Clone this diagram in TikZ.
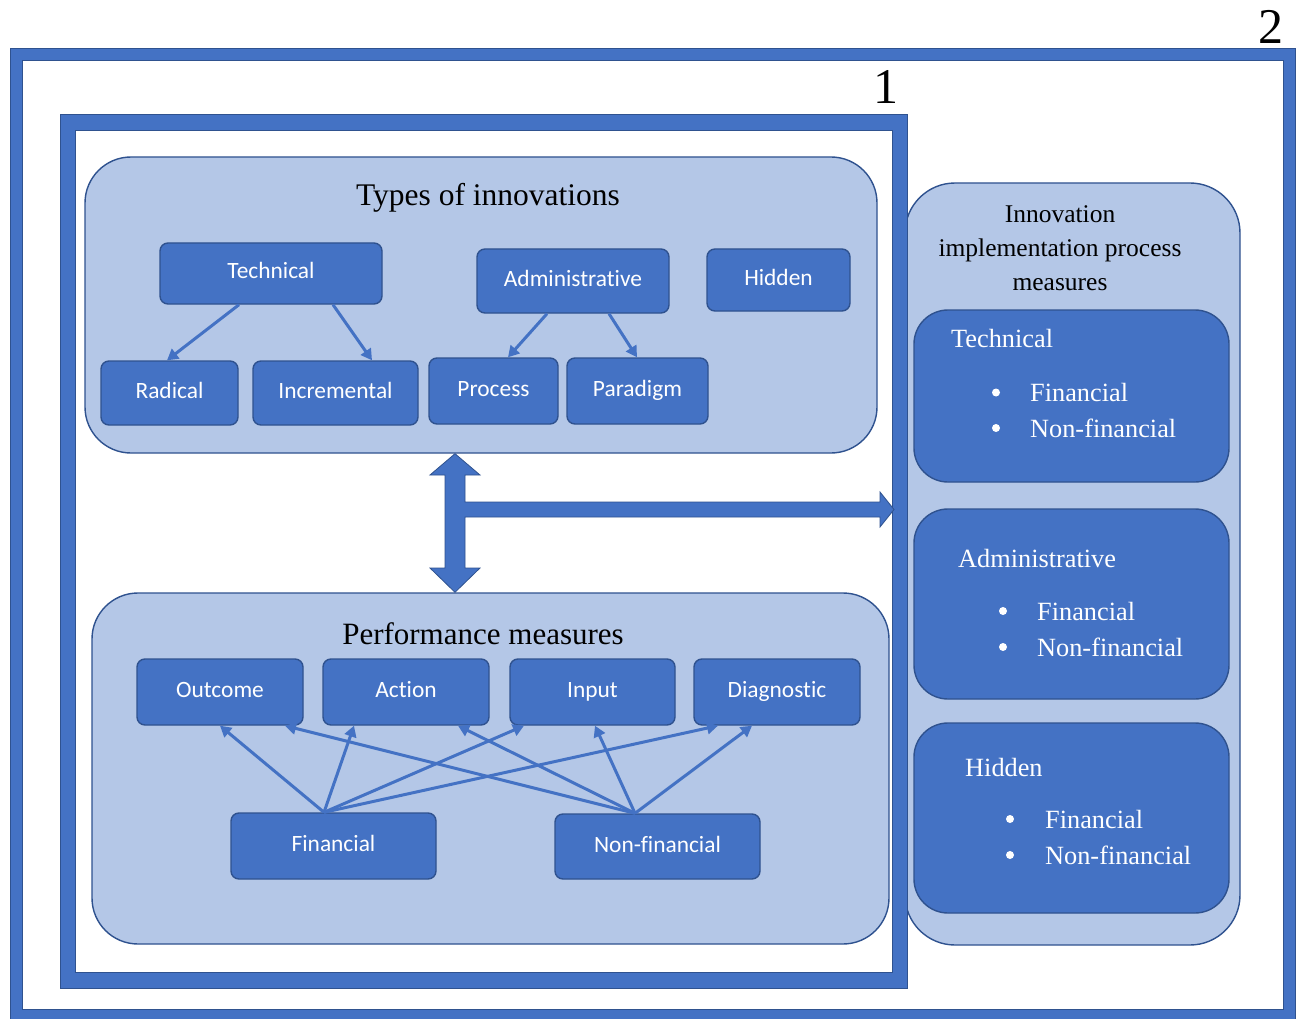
\documentclass[tikz,border=0pt]{standalone}
\usepackage{fontspec}
\setmainfont{Liberation Serif}
\newfontfamily\boxfont{Carlito}[Ligatures={NoCommon}]
\usetikzlibrary{arrows.meta}
\definecolor{accent}{HTML}{4472C4}
\definecolor{accentdark}{HTML}{2F528F}
\definecolor{panel}{HTML}{B4C7E7}

\begin{document}
\begin{tikzpicture}[x=1pt,y=-1pt,
  panelbox/.style={draw=accentdark, line width=1.4pt, fill=panel, rounded corners=46pt, inner sep=0pt},
  smallbox/.style={draw=accentdark, line width=1.4pt, fill=accent, rounded corners=8pt,
    text=white, font=\boxfont\fontsize{23.4}{26}\selectfont, inner sep=0pt,
    text height=15pt, text depth=4pt},
  listbox/.style={draw=accentdark, line width=1.4pt, fill=accent, rounded corners=34pt, inner sep=0pt},
  conn/.style={draw=accent, line width=3pt, -{Triangle[length=11pt,width=12pt]}},
  bigtitle/.style={font=\fontsize{31.5}{36}\selectfont, inner sep=0pt},
  listhead/.style={anchor=base west, text=white, font=\fontsize{26.3}{30}\selectfont, inner sep=0pt},
  listitem/.style={anchor=base west, text=white, font=\fontsize{26.3}{30}\selectfont, inner sep=0pt},
  bulletdot/.style={fill=white, circle, inner sep=0pt, minimum size=8pt},
  framenum/.style={font=\fontsize{50}{56}\selectfont, inner sep=0pt},
]
\useasboundingbox (0,0) rectangle (1299,1019);
\fill[white] (0,0) rectangle (1299,1019);

% outer frame (2)
\fill[accent, even odd rule] (10,49) rectangle (1295,1023) (22,61) rectangle (1283,1009);
\draw[accentdark, line width=1pt] (10,49) rectangle (1295,1023);
\draw[accentdark, line width=1pt] (22,61) rectangle (1283,1009);
\node[framenum] (num2) at (1271,27) {2};

% right panel: implementation process measures
\node[panelbox, rounded corners=50pt, minimum width=335pt, minimum height=762pt] (impl) at (1072.5,564) {};
\node[font=\fontsize{25.5}{34}\selectfont, align=center, inner sep=0pt] (impltitle) at (1060,248)
  {Innovation\\implementation process\\measures};

\node[listbox, minimum width=315pt, minimum height=172pt] (mtech) at (1071.5,396) {};
\node[listhead] (mtechh) at (951,347) {Technical};
\node[bulletdot] (mtechb1) at (996,392.5) {};
\node[bulletdot] (mtechb2) at (996,428) {};
\node[listitem] (mtechf) at (1030,401) {Financial};
\node[listitem] (mtechn) at (1030,437) {Non-financial};

\node[listbox, minimum width=315pt, minimum height=190pt] (madm) at (1071.5,604) {};
\node[listhead] (madmh) at (958,567) {Administrative};
\node[bulletdot] (madmb1) at (1003,611) {};
\node[bulletdot] (madmb2) at (1003,647) {};
\node[listitem] (madmf) at (1037,620) {Financial};
\node[listitem] (madmn) at (1037,656) {Non-financial};

\node[listbox, minimum width=315pt, minimum height=190pt] (mhid) at (1071.5,818) {};
\node[listhead] (mhidh) at (965,776) {Hidden};
\node[bulletdot] (mhidb1) at (1010,819) {};
\node[bulletdot] (mhidb2) at (1010,855) {};
\node[listitem] (mhidf) at (1045,828) {Financial};
\node[listitem] (mhidn) at (1045,864) {Non-financial};

% inner frame (1)
\fill[accent, even odd rule] (60,115) rectangle (907,988) (75,131) rectangle (892,972);
\draw[accentdark, line width=1pt] (60,115) rectangle (907,988);
\draw[accentdark, line width=1pt] (75,131) rectangle (892,972);
\node[framenum] (num1) at (886,87) {1};

% types of innovations
\node[panelbox, minimum width=792pt, minimum height=296pt] (types) at (481,305) {};
\node[bigtitle] (typestitle) at (488,198) {Types of innovations};
\node[smallbox, minimum width=222pt, minimum height=61pt] (tech) at (271,273.5) {Technical};
\node[smallbox, minimum width=192pt, minimum height=64pt] (admin) at (573,281) {Administrative};
\node[smallbox, minimum width=143pt, minimum height=62pt] (hidden) at (778.5,280) {Hidden};
\node[smallbox, minimum width=137pt, minimum height=64pt] (radical) at (169.5,393) {Radical};
\node[smallbox, minimum width=165pt, minimum height=64pt] (incr) at (335.5,393) {Incremental};
\node[smallbox, minimum width=129pt, minimum height=66pt] (process) at (493.5,391) {Process};
\node[smallbox, minimum width=141pt, minimum height=66pt] (paradigm) at (637.5,391) {Paradigm};

\draw[conn] (tech.south -| 239,0) -- (radical.north -| 167,0);
\draw[conn] (tech.south -| 333,0) -- (incr.north -| 372,0);
\draw[conn] (admin.south -| 547,0) -- (process.north -| 508,0);
\draw[conn] (admin.south -| 609,0) -- (paradigm.north -| 637,0);

% performance measures
\node[panelbox, minimum width=797pt, minimum height=351pt] (perf) at (490.5,768.5) {};
\node[bigtitle, font=\fontsize{31}{36}\selectfont] (perftitle) at (483,634) {Performance measures};
\node[smallbox, minimum width=166pt, minimum height=66pt] (outcome) at (220,692) {Outcome};
\node[smallbox, minimum width=166pt, minimum height=66pt] (action) at (406,692) {Action};
\node[smallbox, minimum width=165pt, minimum height=66pt] (input) at (592.5,692) {Input};
\node[smallbox, minimum width=166pt, minimum height=66pt] (diag) at (777,692) {Diagnostic};
\node[smallbox, minimum width=205pt, minimum height=66pt] (fin) at (333.5,846) {Financial};
\node[smallbox, minimum width=205pt, minimum height=65pt] (nonfin) at (657.5,846.5) {Non-financial};

\coordinate (fintop) at (fin.north -| 324,0);
\coordinate (nftop) at (nonfin.north -| 635,0);
\draw[conn] (fintop) -- (outcome.south -| 220,0);
\draw[conn] (fintop) -- (action.south -| 354,0);
\draw[conn] (fintop) -- (input.south -| 524,0);
\draw[conn] (fintop) -- (diag.south -| 718,0);
\draw[conn] (nftop) -- (outcome.south -| 285,0);
\draw[conn] (nftop) -- (action.south -| 458,0);
\draw[conn] (nftop) -- (input.south -| 595,0);
\draw[conn] (nftop) -- (diag.south -| 752,0);

% block arrow linking the two panels and the process measures
\coordinate (vtop) at (455,0 |- types.south);
\coordinate (vbot) at (455,0 |- perf.north);
\coordinate (htip) at (894,509.5);
\fill[accent, draw=accentdark, line width=0.8pt]
  (vtop) -- (480,475) -- (465,475) -- (465,502) -- (880,502) -- (880,492) -- (htip)
  -- (880,527) -- (880,517) -- (465,517) -- (465,568) -- (480,568) -- (vbot)
  -- (430,568) -- (445,568) -- (445,475) -- (430,475) -- cycle;
\end{tikzpicture}
\end{document}
